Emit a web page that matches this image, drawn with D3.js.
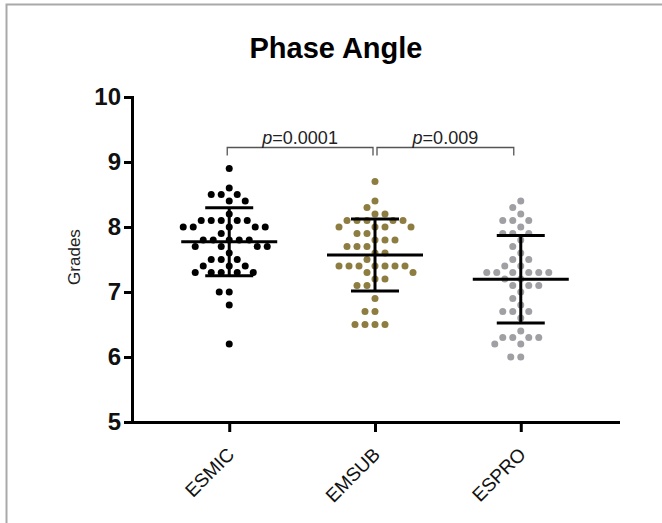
<!DOCTYPE html>
<html>
<head>
<meta charset="utf-8">
<script src="https://cdn.jsdelivr.net/npm/d3@7"></script>
<style>
  body { margin: 0; background: #fff; }
  svg { display: block; font-family: "Liberation Sans", Arial, sans-serif; }
</style>
</head>
<body>
<div id="chart"></div>
<script>
// groups shown on the x axis
var groups = ["ESMIC", "EMSUB", "ESPRO"];

// phase angle values per group
var esmic = [8.9, 8.6, 8.5, 8.5, 8.5, 8.4, 8.4, 8.2,
  8.1, 8.1, 8.1, 8.1, 8.1, 8.0, 8.0, 8.0, 8.0, 8.0, 7.9,
  7.8, 7.8, 7.8, 7.8, 7.8, 7.7, 7.7, 7.7, 7.7, 7.6,
  7.5, 7.5, 7.5, 7.4, 7.4, 7.4, 7.3, 7.3, 7.3, 7.3, 7.3,
  7.0, 7.0, 6.8, 6.2];
var emsub = [8.7, 8.4, 8.3, 8.2, 8.2, 8.1, 8.1, 8.1, 8.1, 8.1,
  8.0, 8.0, 8.0, 8.0, 7.9, 7.9, 7.8, 7.8, 7.8, 7.7, 7.7, 7.7,
  7.6, 7.6, 7.5, 7.4, 7.4, 7.4, 7.4, 7.4, 7.4, 7.4,
  7.3, 7.3, 7.2, 7.2, 7.1, 7.1, 6.9, 6.7, 6.7, 6.5, 6.5, 6.5, 6.5];
var espro = [8.4, 8.3, 8.2, 8.1, 8.1, 8.1, 8.0, 7.9, 7.9, 7.9,
  7.8, 7.7, 7.6, 7.5, 7.5, 7.4, 7.4, 7.3, 7.3, 7.3, 7.3, 7.3, 7.3,
  7.2, 7.2, 7.1, 7.1, 7.1, 7.0, 6.9, 6.8, 6.7, 6.7, 6.7, 6.6,
  6.4, 6.3, 6.3, 6.3, 6.3, 6.2, 6.2, 6.0, 6.0];

var groupColors = ["#000000", "#8e7d40", "#a0a0a4"];
var yTicks = [5, 6, 7, 8, 9, 10];

// significance brackets
var compFrom = ["ESMIC", "EMSUB"];
var compTo = ["EMSUB", "ESPRO"];
var compP = ["0.0001", "0.009"];
var bracketLevel = 9.23;

var width = 662, height = 523;
var margin = { left: 132, right: 618, top: 97, bottom: 422 };

var svg = d3.select("#chart").append("svg")
  .attr("width", width)
  .attr("height", height);

// grey frame (cropped on the right and bottom)
svg.append("rect")
  .attr("x", 6.5).attr("y", 4.5)
  .attr("width", 720).attr("height", 620)
  .attr("fill", "none")
  .attr("stroke", "#a9a9a9")
  .attr("stroke-width", 2);

var x = d3.scalePoint().domain(groups).range([margin.left, margin.right]).padding(0.667);
var y = d3.scaleLinear().domain([5, 10]).range([margin.bottom, margin.top]);

svg.append("text")
  .attr("x", 336).attr("y", 58)
  .attr("text-anchor", "middle")
  .attr("font-size", "29px")
  .attr("font-weight", "bold")
  .text("Phase Angle");

// axes
var yAxisG = svg.append("g")
  .attr("transform", "translate(" + margin.left + ",0)")
  .call(d3.axisLeft(y).tickValues(yTicks).tickFormat(d3.format("d"))
    .tickSize(8).tickSizeOuter(0).tickPadding(3));
yAxisG.selectAll("text")
  .attr("font-size", "24px")
  .attr("font-weight", "bold")
  .attr("fill", "#111");

var xAxisG = svg.append("g")
  .attr("transform", "translate(0," + margin.bottom + ")")
  .call(d3.axisBottom(x).tickSize(10).tickSizeOuter(0));
xAxisG.selectAll("text")
  .attr("y", 0).attr("x", 0)
  .attr("dy", "0.35em")
  .attr("transform", "translate(1,29) rotate(-45)")
  .attr("text-anchor", "end")
  .attr("font-size", "19px")
  .attr("fill", "#111");

svg.selectAll(".domain, .tick line")
  .attr("stroke", "#000")
  .attr("stroke-width", 3);
svg.selectAll(".domain").attr("stroke-linecap", "square");

svg.append("text")
  .attr("transform", "translate(80,257) rotate(-90)")
  .attr("text-anchor", "middle")
  .attr("font-size", "17px")
  .attr("fill", "#222")
  .text("Grades");

// simple beeswarm: place each dot as close to the centre as it can go
function swarm(values, cx) {
  var placed = [], d = 10;
  values.slice().sort(function(a, b) { return b - a; }).forEach(function(v) {
    var py = y(v);
    for (var k = 0; k < 400; k++) {
      var off = (k % 2 === 0 ? 1 : -1) * Math.ceil(k / 2) * 0.5;
      var ok = placed.every(function(p) {
        var dx = p.x - (cx + off), dy = p.y - py;
        return dx * dx + dy * dy >= d * d - 0.01;
      });
      if (ok) { placed.push({x: cx + off, y: py}); break; }
    }
  });
  return placed;
}

var series = [esmic, emsub, espro];
series.forEach(function(vals, i) {
  var cx = x(groups[i]);
  var pts = swarm(vals, cx);
  svg.append("g").selectAll("circle").data(pts).enter().append("circle")
    .attr("cx", function(d) { return d.x; })
    .attr("cy", function(d) { return d.y; })
    .attr("r", 3.5)
    .attr("fill", groupColors[i]);

  var m = d3.mean(vals), sd = d3.deviation(vals);
  var g = svg.append("g").attr("stroke", "#000").attr("stroke-width", 3);
  g.append("line")
    .attr("x1", cx).attr("x2", cx)
    .attr("y1", y(m + sd)).attr("y2", y(m - sd));
  [m + sd, m - sd].forEach(function(v) {
    g.append("line")
      .attr("x1", cx - 24).attr("x2", cx + 24)
      .attr("y1", y(v)).attr("y2", y(v));
  });
  g.append("line")
    .attr("x1", cx - 48).attr("x2", cx + 48)
    .attr("y1", y(m)).attr("y2", y(m));
});

// p-value brackets
compFrom.forEach(function(a, i) {
  var x1 = x(a) + (i === 0 ? -2 : 2), x2 = x(compTo[i]) - (i === 0 ? 2 : 7);
  var by = Math.round(y(bracketLevel)) + 0.5;
  svg.append("path")
    .attr("d", "M" + x1 + "," + (by + 8) + "V" + by + "H" + x2 + "V" + (by + 8))
    .attr("fill", "none")
    .attr("stroke", "#555")
    .attr("stroke-width", 1.3);
  var t = svg.append("text")
    .attr("x", (x1 + x2) / 2).attr("y", by - 4)
    .attr("text-anchor", "middle")
    .attr("font-size", "18px")
    .attr("fill", "#222");
  t.append("tspan").attr("font-style", "italic").text("p");
  t.append("tspan").text("=" + compP[i]);
});
</script>
</body>
</html>
